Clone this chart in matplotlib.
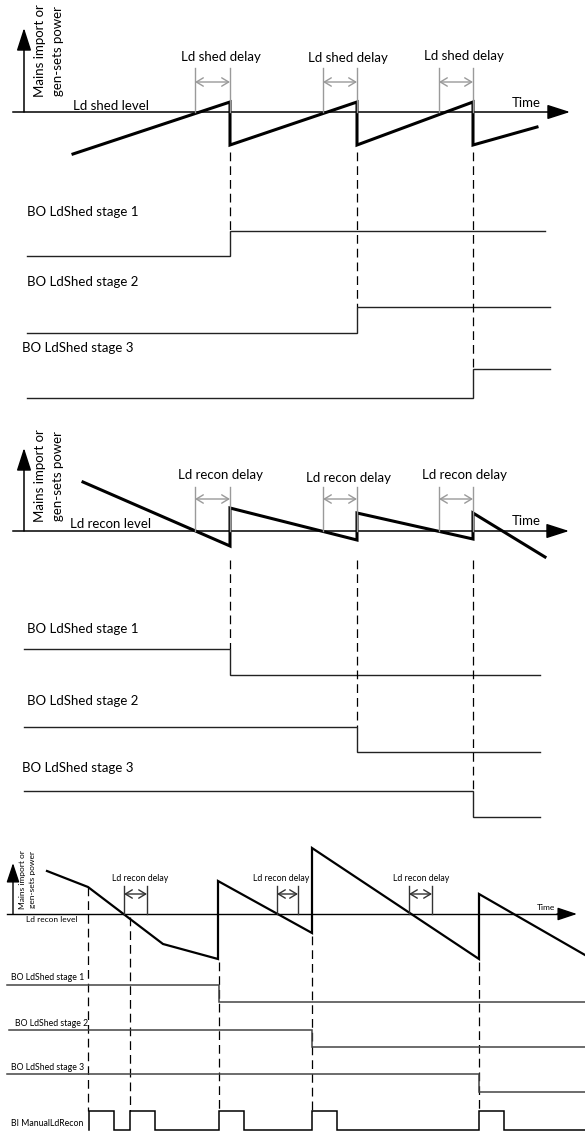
import matplotlib.pyplot as plt

plt.rcParams['font.family'] = ['Lato', 'DejaVu Sans']

W, H = 585, 1131

# ---------- panel 1 : load shedding ----------
shed_axis_y = 112
shed_t = [73, 230, 230, 357, 357, 473, 473, 537]
shed_p = [-42, 10, -33, 10, -33, 10, -33, -15]      # relative to Ld shed level
shed_delay_from = [195, 323, 439]
shed_switch = [230, 357, 473]
shed_delay_label_y = [61, 62, 60]
shed_stage_y_low = [256, 333, 398]
shed_stage_y_high = [231, 307, 369]
shed_stage_start = [27, 27, 27]
shed_stage_end = [545, 550, 550]
shed_stage_label_x = [27, 27, 22]
shed_stage_label_y = [212, 282, 348]

# ---------- panel 2 : load reconnection ----------
recon_axis_y = 531
recon_t = [83, 230, 230, 357, 357, 473, 473, 545]
recon_p = [49, -15, 23, -9, 18, -8, 18, -26]
recon_delay_from = [195, 323, 439]
recon_switch = [230, 357, 473]
recon_delay_label_y = [479, 482, 479]
recon_stage_y_high = [649, 727, 791]
recon_stage_y_low = [675, 752, 817]
recon_stage_start = [24, 24, 24]
recon_stage_end = [540, 540, 540]
recon_stage_label_x = [27, 27, 22]
recon_stage_label_y = [629, 701, 768]

# ---------- panel 3 : manual reconnection ----------
man_axis_y = 914
man_t = [47, 88, 163, 218, 218, 312, 312, 479, 479, 585]
man_p = [43, 27, -30, -45, 33, -19, 66, -45, 20, -41]
man_delay_from = [124, 277, 409]
man_delay_to = [147, 298, 432]
man_delay_label_x = [140, 281, 421]
man_dash_x = [88, 130, 219, 312, 479]
man_dash_top = [887, 917, 962, 936, 962]
man_switch = [219, 312, 479]
man_stage_y_high = [985, 1030, 1074]
man_stage_y_low = [1002, 1047, 1092]
man_stage_start = [7, 9, 7]
man_stage_label_x = [11, 15, 11]
man_stage_label_y = [977, 1023, 1067]
pulse_on = [89, 130, 219, 312, 479]
pulse_off = [114, 155, 244, 337, 504]
pulse_low, pulse_high = 1130, 1111

stage_names = ["BO LdShed stage 1", "BO LdShed stage 2", "BO LdShed stage 3"]

fig = plt.figure(figsize=(W / 100, H / 100), dpi=100)
ax = fig.add_axes([0, 0, 1, 1])
ax.set_xlim(0, W)
ax.set_ylim(H, 0)
ax.axis("off")

DASH = dict(color="black", lw=0.9, dashes=(7, 4))
FS = 9.5


def power_axes(axis_y, x0, x1, arrow_x, arrow_top, level_text, level_x, level_y,
               time_x, time_y, ylab_x, ylab_y, fs, lw, head):
    ax.plot([x0, x1 - 10], [axis_y, axis_y], color="black", lw=lw)
    ax.annotate("", xy=(x1, axis_y), xytext=(x1 - 20, axis_y),
                arrowprops=dict(arrowstyle="-|>,head_length=%s,head_width=%s" % head,
                                color="black", lw=lw, shrinkA=0, shrinkB=0))
    ax.annotate("", xy=(arrow_x, arrow_top), xytext=(arrow_x, axis_y),
                arrowprops=dict(arrowstyle="-|>,head_length=%s,head_width=%s" % head,
                                color="black", lw=lw, shrinkA=0, shrinkB=0))
    ax.text(level_x, level_y, level_text, fontsize=fs, va="baseline")
    ax.text(time_x, time_y, "Time", fontsize=fs, va="baseline")
    ax.text(ylab_x[0], ylab_y, "Mains import or", fontsize=fs, rotation=90,
            ha="center", va="center")
    ax.text(ylab_x[1], ylab_y, "gen-sets power", fontsize=fs, rotation=90,
            ha="center", va="center")


def delay(x0, x1, axis_y, top, arrow_y, color, label, lx, ly, fs):
    ax.plot([x0, x0], [top, axis_y], color=color, lw=1.0)
    ax.plot([x1, x1], [top, axis_y], color=color, lw=1.0)
    ax.annotate("", xy=(x1, arrow_y), xytext=(x0, arrow_y),
                arrowprops=dict(arrowstyle="<->,head_length=0.5,head_width=0.3",
                                color=color, lw=1.0, shrinkA=0, shrinkB=0))
    ax.text(lx, ly, label, fontsize=fs, ha="center", va="baseline")


def step(x0, x_sw, x1, y_before, y_after, color="#222222", lw=1.0):
    ax.plot([x0, x_sw, x_sw, x1], [y_before, y_before, y_after, y_after],
            color=color, lw=lw, solid_joinstyle="miter")


# panel 1
power_axes(shed_axis_y, 13, 570, 24, 28, "Ld shed level", 73, 110, 512, 107,
           (40, 58), 51, FS, 1.1, (1.4, 0.45))
ax.plot(shed_t, [shed_axis_y - p for p in shed_p], color="black", lw=2.2,
        solid_joinstyle="miter")
for i in range(3):
    delay(shed_delay_from[i], shed_switch[i], shed_axis_y, 68, 82, "#9a9a9a",
          "Ld shed delay", (shed_delay_from[i] + shed_switch[i]) / 2 + 8,
          shed_delay_label_y[i], FS)
    ax.plot([shed_switch[i]] * 2, [152, shed_stage_y_high[i]], **DASH)
    step(shed_stage_start[i], shed_switch[i], shed_stage_end[i],
         shed_stage_y_low[i], shed_stage_y_high[i])
    ax.text(shed_stage_label_x[i], shed_stage_label_y[i] + 4, stage_names[i],
            fontsize=FS, va="baseline")

# panel 2
power_axes(recon_axis_y, 13, 569, 24, 448, "Ld recon level", 70, 528, 512, 525,
           (40, 58), 476, FS, 1.1, (1.4, 0.45))
ax.plot(recon_t, [recon_axis_y - p for p in recon_p], color="black", lw=2.2,
        solid_joinstyle="miter")
for i in range(3):
    delay(recon_delay_from[i], recon_switch[i], recon_axis_y, 487, 499, "#9a9a9a",
          "Ld recon delay", (recon_delay_from[i] + recon_switch[i]) / 2 + 8,
          recon_delay_label_y[i], FS)
    ax.plot([recon_switch[i]] * 2, [560, recon_stage_y_high[i]], **DASH)
    step(recon_stage_start[i], recon_switch[i], recon_stage_end[i],
         recon_stage_y_high[i], recon_stage_y_low[i])
    ax.text(recon_stage_label_x[i], recon_stage_label_y[i] + 4, stage_names[i],
            fontsize=FS, va="baseline")

# panel 3
power_axes(man_axis_y, 7, 577, 13, 863, "Ld recon level", 26, 922, 537, 910,
           (23, 33), 880, 6.0, 1.0, (1.2, 0.4))
ax.plot(man_t, [man_axis_y - p for p in man_p], color="black", lw=1.6,
        solid_joinstyle="miter")
for i in range(3):
    delay(man_delay_from[i], man_delay_to[i], man_axis_y, 886, 894, "#333333",
          "Ld recon delay", man_delay_label_x[i], 881, 6.3)
for x, top in zip(man_dash_x, man_dash_top):
    ax.plot([x, x], [top, pulse_high], **DASH)
for i in range(3):
    step(man_stage_start[i], man_switch[i], W, man_stage_y_high[i],
         man_stage_y_low[i], color="#444444", lw=1.1)
    ax.text(man_stage_label_x[i], man_stage_label_y[i] + 3, stage_names[i],
            fontsize=6.3, va="baseline")

px, py = [pulse_on[0]], [pulse_low]
for a, b in zip(pulse_on, pulse_off):
    px += [a, a, b, b]
    py += [pulse_low, pulse_high, pulse_high, pulse_low]
px.append(W)
py.append(pulse_low)
ax.plot(px, py, color="black", lw=1.1, solid_joinstyle="miter")
ax.text(11, 1126, "BI ManualLdRecon", fontsize=6.3, va="baseline")

fig.savefig("out.png", dpi=100)
